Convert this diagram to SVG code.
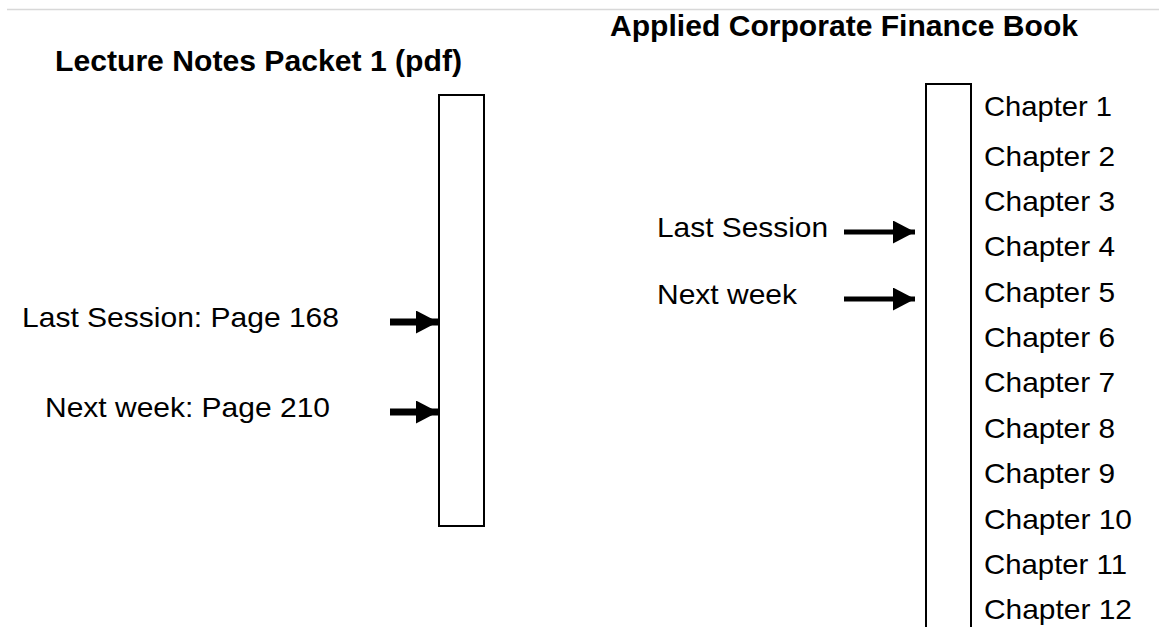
<svg xmlns="http://www.w3.org/2000/svg" width="1159" height="627" viewBox="0 0 1159 627">
<style>
.t{font-family:"Liberation Sans",Arial,Helvetica,sans-serif;font-size:28px;fill:#000}
.b{font-family:"Liberation Sans",Arial,Helvetica,sans-serif;font-size:29px;font-weight:bold;fill:#000}
.bar{fill:#fff;stroke:#000;stroke-width:2}
.arr{stroke:#000;fill:none}
</style>
<defs>
<marker id="ah" markerUnits="userSpaceOnUse" markerWidth="23" markerHeight="23" refX="22" refY="11.5" orient="auto">
<path d="M0,0 L22,11.5 L0,23 Z" fill="#000"/>
</marker>
</defs>
<line x1="7" y1="9.5" x2="1159" y2="9.5" stroke="#d8d8d8" stroke-width="1.5"/>
<g id="lecture-notes">
<text class="b" x="55" y="71" textLength="407" lengthAdjust="spacingAndGlyphs">Lecture Notes Packet 1 (pdf)</text>
<rect class="bar" x="439" y="95" width="45" height="431"/>
<text class="t" x="22" y="327" textLength="317" lengthAdjust="spacingAndGlyphs">Last Session: Page 168</text>
<text class="t" x="45" y="417" textLength="285" lengthAdjust="spacingAndGlyphs">Next week: Page 210</text>
</g>
<g id="book">
<text class="b" x="610" y="36" textLength="468" lengthAdjust="spacingAndGlyphs">Applied Corporate Finance Book</text>
<rect class="bar" x="926" y="84" width="45" height="560"/>
<text class="t" x="657" y="237" textLength="171" lengthAdjust="spacingAndGlyphs">Last Session</text>
<text class="t" x="657" y="304" textLength="140" lengthAdjust="spacingAndGlyphs">Next week</text>
<text class="t" x="984" y="116" textLength="128" lengthAdjust="spacingAndGlyphs">Chapter 1</text>
<text class="t" x="984" y="166" textLength="131" lengthAdjust="spacingAndGlyphs">Chapter 2</text>
<text class="t" x="984" y="211" textLength="131" lengthAdjust="spacingAndGlyphs">Chapter 3</text>
<text class="t" x="984" y="256" textLength="131" lengthAdjust="spacingAndGlyphs">Chapter 4</text>
<text class="t" x="984" y="302" textLength="131" lengthAdjust="spacingAndGlyphs">Chapter 5</text>
<text class="t" x="984" y="347" textLength="131" lengthAdjust="spacingAndGlyphs">Chapter 6</text>
<text class="t" x="984" y="392" textLength="131" lengthAdjust="spacingAndGlyphs">Chapter 7</text>
<text class="t" x="984" y="438" textLength="131" lengthAdjust="spacingAndGlyphs">Chapter 8</text>
<text class="t" x="984" y="483" textLength="131" lengthAdjust="spacingAndGlyphs">Chapter 9</text>
<text class="t" x="984" y="529" textLength="148" lengthAdjust="spacingAndGlyphs">Chapter 10</text>
<text class="t" x="984" y="574" textLength="143" lengthAdjust="spacingAndGlyphs">Chapter 11</text>
<text class="t" x="984" y="619" textLength="148" lengthAdjust="spacingAndGlyphs">Chapter 12</text>
</g>
<g id="connectors">
<line class="arr" x1="390" y1="322" x2="438" y2="322" stroke-width="7" marker-end="url(#ah)"/>
<line class="arr" x1="390" y1="412" x2="438" y2="412" stroke-width="7" marker-end="url(#ah)"/>
<line class="arr" x1="844" y1="232" x2="915" y2="232" stroke-width="5" marker-end="url(#ah)"/>
<line class="arr" x1="844" y1="299" x2="915" y2="299" stroke-width="5" marker-end="url(#ah)"/>
</g>
</svg>
